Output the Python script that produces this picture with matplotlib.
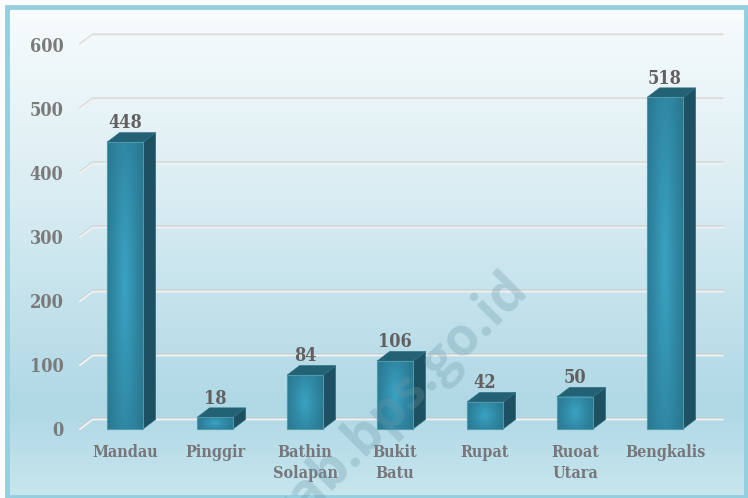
import numpy as np
import matplotlib
matplotlib.use('Agg')
import matplotlib.pyplot as plt
from matplotlib.colors import LinearSegmentedColormap
from matplotlib.patches import Polygon, Rectangle
from matplotlib.transforms import ScaledTranslation

# Data
categories = ['Mandau', 'Pinggir', 'Bathin\nSolapan', 'Bukit\nBatu', 'Rupat', 'Ruoat\nUtara', 'Bengkalis']
values = [448, 18, 84, 106, 42, 50, 518]
y_ticks = [0, 100, 200, 300, 400, 500, 600]

W, H = 748, 498
FONT = 'DejaVu Serif'

# 3d depth of the bars and walls, in data units
DX = 0.14
DY = 15
BAR_W = 0.4

fig = plt.figure(figsize=(W / 100, H / 100), dpi=100)

# Background panel with gradient and border
bg = fig.add_axes([0, 0, 1, 1])
bg.axis('off')
bg_cmap = LinearSegmentedColormap.from_list('bg', [
    (0.0, '#f8fcfd'), (0.4, '#d8ecf2'), (0.82, '#afd8e5'), (1.0, '#c7e6ee')])
bg.imshow(np.linspace(0, 1, 256).reshape(-1, 1), cmap=bg_cmap, aspect='auto',
          extent=[8, 746, 496, 7], zorder=1)
bg.add_patch(Rectangle((7.5, 6.5), 739, 490, fill=False, ec='#95cfdf', lw=3.5, zorder=2))
bg.set_xlim(0, W)
bg.set_ylim(H, 0)

# Chart axes, front plane
ax = fig.add_axes([80 / W, 1 - 429 / H, 630 / W, 384 / H])
ax.patch.set_alpha(0)
for s in ax.spines.values():
    s.set_visible(False)
ax.tick_params(length=0)

bar_cmap = LinearSegmentedColormap.from_list('bar', ['#3aa3c2', '#3088a5', '#287489'])
yy, xx = np.mgrid[-1:1:120j, -1:1:60j]
shade = np.clip(np.sqrt(xx ** 2 + 0.4 * yy ** 2) / 1.25, 0, 1)

# Gridlines on the back wall, with the small stub on the side wall
up = ax.transData + ScaledTranslation(0, 1 / 100, fig.dpi_scale_trans)
for v in y_ticks:
    xs = [-0.5, -0.5 + DX, 6.5 + DX]
    ys = [v, v + DY, v + DY]
    ax.plot(xs, ys, color='#bcbcbc', lw=1.0, clip_on=False, zorder=1, solid_joinstyle='miter', transform=up)
    ax.plot(xs, ys, color='#f2f2f2', lw=1.4, clip_on=False, zorder=1.1, solid_joinstyle='miter')

# Bars
for i, v in enumerate(values):
    l, r = i - BAR_W / 2, i + BAR_W / 2
    ax.add_patch(Polygon([(r, 0), (r + DX, DY), (r + DX, v + DY), (r, v)],
                         fc='#1d5060', ec='#2f6f82', lw=0.5, zorder=3, clip_on=False))
    ax.add_patch(Polygon([(l, v), (l + DX, v + DY), (r + DX, v + DY), (r, v)],
                         fc='#226274', ec='#2f6f82', lw=0.5, zorder=3, clip_on=False))
    ax.imshow(shade, cmap=bar_cmap, aspect='auto', extent=[l, r, 0, v],
              vmin=0, vmax=1, zorder=4, clip_on=False)
    ax.bar(i, v, width=BAR_W, fc='none', ec='#4f98ad', lw=0.8, zorder=5, clip_on=False)
    ax.annotate(str(v), (i, v), xytext=(0, 10), textcoords='offset points', ha='center', va='baseline',
                fontsize=13, fontweight='bold', family=FONT, stretch='condensed', color='#615f5f', zorder=6)

ax.set_xlim(-0.5, 6.5)
ax.set_ylim(0, 600)
ax.set_yticks(y_ticks)
ax.set_yticklabels(y_ticks, fontsize=13, fontweight='bold', family=FONT, stretch='condensed', color='#7a7a7a')
ax.tick_params(axis='y', pad=12)
ax.set_xticks(range(len(categories)))
ax.set_xticklabels(categories, fontsize=11.5, fontweight='bold', family=FONT, stretch='condensed',
                   color='#77777b', linespacing=1.32)
ax.tick_params(axis='x', pad=10.5)

# Watermark
fig.text(530 / W, 1 - 290 / H, 'kab.bps.go.id', rotation=45, rotation_mode='anchor',
         ha='right', va='baseline', fontsize=38, fontweight='bold', family='Open Sans',
         color='#6a98a8', alpha=0.3, zorder=10)

fig.savefig('out.png', dpi=100)
